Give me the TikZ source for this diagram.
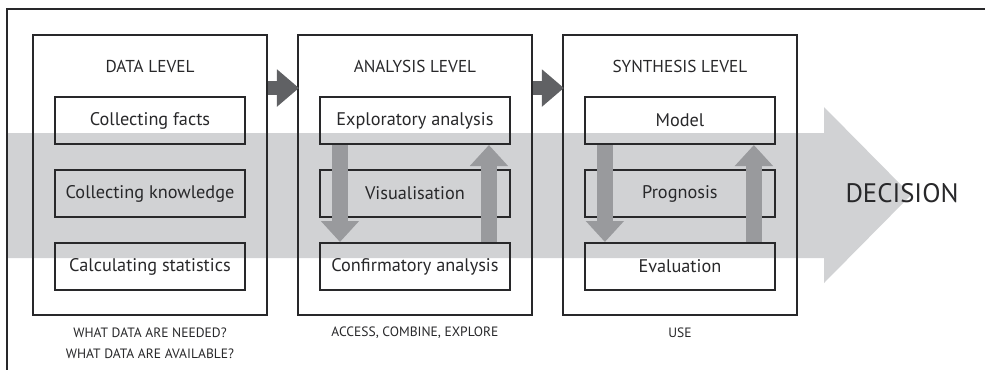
\documentclass[tikz,border=0pt]{standalone}
\usepackage{xcolor}
\usepackage{fontspec}
\setmainfont{PT Sans}
\usepackage{tikz}
\usetikzlibrary{positioning}
\usetikzlibrary{arrows.meta}
\definecolor{bandgray}{RGB}{209,210,212}
\definecolor{flowgray}{RGB}{153,154,157}
\definecolor{stepgray}{RGB}{96,97,100}
\definecolor{inkgray}{RGB}{40,40,42}
\tikzset{flow edge/.style = {line width=0.32cm,flowgray,-{Triangle[length=0.42cm,width=0.74cm]}}}
\tikzset{pass edge/.style = {line width=0.28cm,stepgray,-{Triangle[length=0.44cm,width=0.72cm]}}}

\begin{document}
\begin{tikzpicture}[x=0.02cm,y=-0.02cm,node distance=1.46cm,on grid,
  level node/.style={draw=inkgray,line width=0.04cm,minimum width=4.68cm,minimum height=5.6cm,inner sep=0pt},
  main node/.style={draw=inkgray,line width=0.04cm,minimum width=3.8cm,minimum height=0.94cm,inner sep=0pt,text=inkgray,font=\fontsize{10.4}{12}\selectfont},
  title node/.style={text=inkgray,font=\fontsize{9.8}{11}\selectfont},
  note node/.style={text=inkgray,align=center,font=\fontsize{7.7}{11.9}\selectfont}]
                \useasboundingbox (0,0) rectangle (985,370);
                \fill[bandgray] (8,133) -- (824,133) -- (824,107) -- (911,195) -- (824,283) -- (824,258) -- (8,258) -- cycle;
                \draw[inkgray,line width=0.04cm] (985,9) -- (7,9) -- (7,370);

                \node[level node] (data) at (150,175) {};
                \node[level node] (analysis) [right=5.3cm of data] {};
                \node[level node] (synthesis) [right=5.3cm of analysis] {};

                \node[title node] (data title) [below=0.64cm of data.north,anchor=center] {DATA LEVEL};
                \node[title node] (analysis title) [below=0.64cm of analysis.north,anchor=center] {ANALYSIS LEVEL};
                \node[title node] (synthesis title) [below=0.64cm of synthesis.north,anchor=center] {SYNTHESIS LEVEL};

                \node[main node] (facts) [below=1.73cm of data.north,anchor=center] {Collecting facts};
                \node[main node] (knowledge) [below of=facts] {Collecting knowledge};
                \node[main node] (statistics) [below of=knowledge] {Calculating statistics};

                \node[main node] (explore) [below=1.73cm of analysis.north,anchor=center] {Exploratory analysis};
                \node[main node] (visual) [below of=explore] {Visualisation};
                \node[main node] (confirm) [below of=visual] {Confirmatory analysis};

                \node[main node] (model) [below=1.73cm of synthesis.north,anchor=center] {Model};
                \node[main node] (prognosis) [below of=model] {Prognosis};
                \node[main node] (evaluation) [below of=prognosis] {Evaluation};

                \node[note node] (data note) [below=0.55cm of data.south,anchor=center] {WHAT DATA ARE NEEDED?\\WHAT DATA ARE AVAILABLE?};
                \node[note node] (analysis note) [below=0.34cm of analysis.south,anchor=center] {ACCESS, COMBINE, EXPLORE};
                \node[note node] (synthesis note) [below=0.34cm of synthesis.south,anchor=center] {USE};

                \node[text=inkgray,font=\fontsize{15.2}{17}\selectfont] (decision) at (902,193) {DECISION};

                \draw[flow edge] ([xshift=0.42cm]explore.south west) -- ([xshift=0.42cm]confirm.north west);
                \draw[flow edge] ([xshift=-0.44cm]confirm.north east) -- ([xshift=-0.44cm]explore.south east);
                \draw[flow edge] ([xshift=0.42cm]model.south west) -- ([xshift=0.42cm]evaluation.north west);
                \draw[flow edge] ([xshift=-0.44cm]evaluation.north east) -- ([xshift=-0.44cm]model.south east);

                \draw[pass edge] ([yshift=-1.08cm]data.north east) -- ([yshift=-1.08cm,xshift=0.04cm]analysis.north west);
                \draw[pass edge] ([yshift=-1.08cm]analysis.north east) -- ([yshift=-1.08cm,xshift=0.04cm]synthesis.north west);
            \end{tikzpicture}
\end{document}
